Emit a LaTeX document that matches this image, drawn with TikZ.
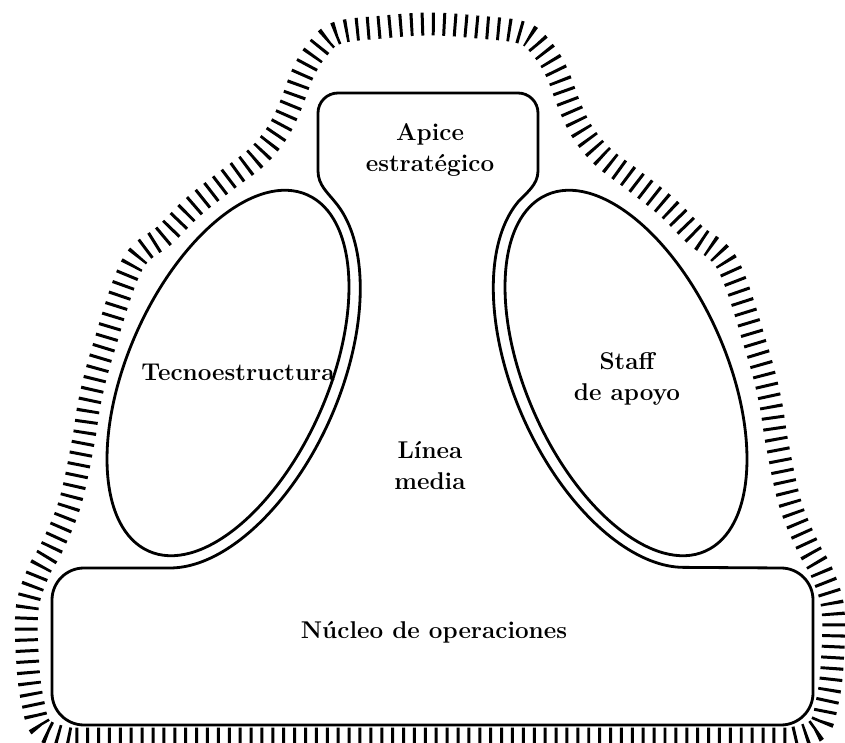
\documentclass[tikz,border=0pt]{standalone}
\usepackage{fontspec}
\usepackage{tikz}

\begin{document}
\begin{tikzpicture}[x=0.02cm, y=0.02cm, line width=1.6pt,
    lbl/.style={font=\fontsize{13.8}{17.6}\selectfont\bfseries, align=center},
    hatch/.style={line width=13pt, dash pattern=on 1.7pt off 4.5pt}]
        \useasboundingbox (0,0) rectangle (845,743);
        \draw[hatch] plot[smooth, tension=0.6] coordinates {
          (70,4) (42,14) (33,40) (28,76) (27,133) (38,170) (52,196)
          (70,240) (83,300) (90,343) (103,393) (132,478) (165,508)
          (193,536) (227,563) (257,586) (277,610) (290,636) (303,670)
          (317,693) (337,710) (383,716) (430,719) (477,716) (523,710)
          (543,693) (557,670) (570,636) (583,610) (603,586) (633,563)
          (667,536) (695,508) (728,478) (757,393) (770,343) (777,300)
          (790,240) (808,196) (822,170) (833,133) (832,76) (827,40)
          (818,14) (790,4)} -- cycle;
        \draw[rotate around={-24:(228,370)}] (228,370)
          ellipse[x radius=100, y radius=195];
        \draw[rotate around={24:(626,370)}] (626,370)
          ellipse[x radius=100, y radius=195];
        \draw (170,175)
          {[rotate=-24] arc[start angle=-76.4, end angle=75,
            x radius=112, y radius=207]}
          .. controls (328,550) and (318,558) .. (318,572)
          -- (318,630) arc[start angle=180, end angle=90, radius=20]
          -- (518,650) arc[start angle=90, end angle=0, radius=20]
          -- (538,572) .. controls (538,558) and (526,550) .. (518,541)
          {[rotate=24] arc[start angle=105, end angle=256.4,
            x radius=112, y radius=207]}
          -- (781,175) arc[start angle=90, end angle=0, radius=32]
          -- (813,50) arc[start angle=0, end angle=-90, radius=32]
          -- (84,18) arc[start angle=270, end angle=180, radius=32]
          -- (52,143) arc[start angle=180, end angle=90, radius=32]
          -- cycle;
        \node[lbl] (apice) at (430,593) {Apice\\estratégico};
        \node[lbl] (tecno) at (238,371) {Tecnoestructura};
        \node[lbl] (staff) at (627,364) {Staff\\de apoyo};
        \node[lbl] (linea) at (430,277) {Línea\\media};
        \node[lbl] (nucleo) at (434,111) {Núcleo de operaciones};
\end{tikzpicture}
\end{document}
